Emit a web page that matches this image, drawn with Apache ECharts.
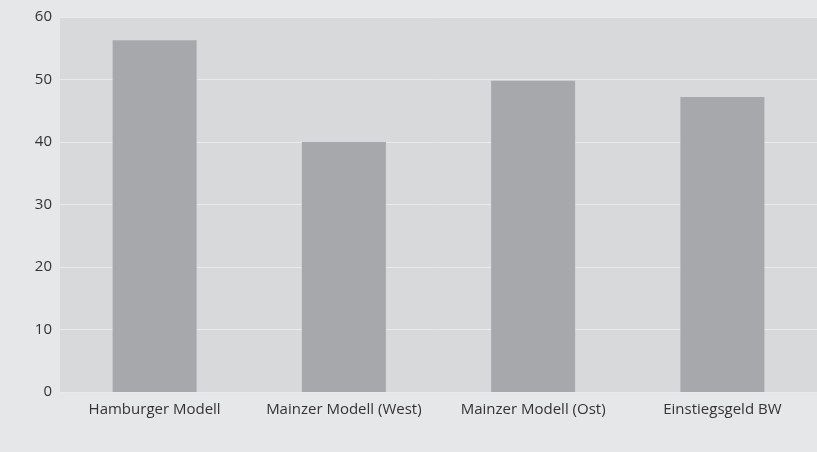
<!DOCTYPE html>
<html>
<head>
<meta charset="utf-8">
<script src="https://cdn.jsdelivr.net/npm/echarts@6/dist/echarts.min.js"></script>
<style>
html,body{margin:0;padding:0;background:#e6e7e9;}
#c{width:817px;height:452px;}
</style>
</head>
<body>
<div id="c"></div>
<script>
var categories = ["Hamburger Modell", "Mainzer Modell (West)", "Mainzer Modell (Ost)", "Einstiegsgeld BW"];
var values = [56.3, 40.0, 49.8, 47.2];
var yTicks = {min: 0, max: 60, interval: 10};

var chart = echarts.init(document.getElementById('c'));
chart.setOption({
  animation: false,
  backgroundColor: '#e6e7e9',
  grid: {left: 60, right: 0, top: 17, bottom: 60, containLabel: false,
         show: true, backgroundColor: '#d8d9db', borderWidth: 0},
  xAxis: {
    type: 'category', data: categories,
    axisLine: {show: false}, axisTick: {show: false},
    axisLabel: {color: '#333', fontSize: 15, margin: 10, interval: 0, hideOverlap: false, fontFamily: 'Open Sans'}
  },
  yAxis: {
    type: 'value', min: yTicks.min, max: yTicks.max, interval: yTicks.interval,
    axisLine: {show: false}, axisTick: {show: false},
    axisLabel: {color: '#333', fontSize: 15, margin: 8, fontFamily: 'Open Sans'},
    splitLine: {lineStyle: {color: '#e9eaec', width: 1}}
  },
  series: [{
    type: 'bar', data: values, barWidth: 84,
    itemStyle: {color: '#a7a8ab'}
  }]
});
</script>
</body>
</html>
